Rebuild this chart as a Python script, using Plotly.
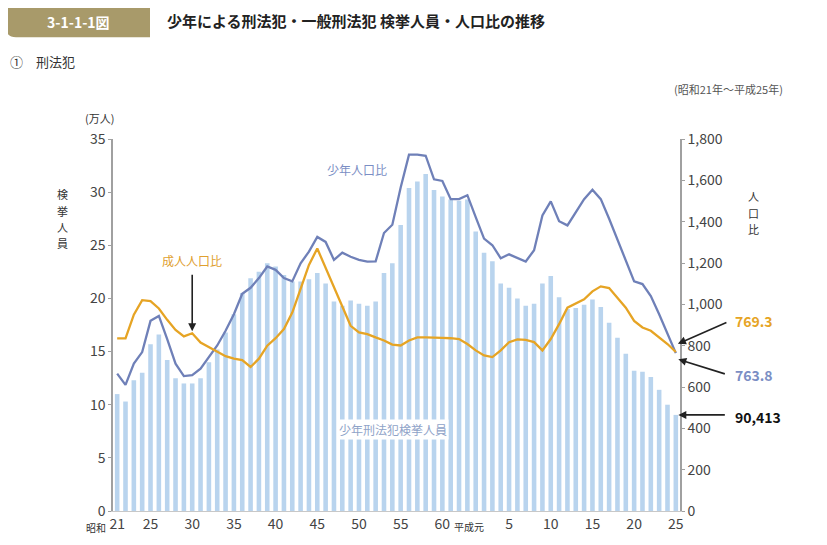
"""
少年による刑法犯 検挙人員・人口比の推移（昭和21年〜平成25年）
"""

import plotly.graph_objects as go

# 昭和21年(1946)〜平成25年(2013)
YEARS = list(range(1946, 2014))

# 少年刑法犯検挙人員（万人）
ARRESTS = [
    11.0, 10.3, 12.3, 13.0, 15.7, 16.6, 14.2, 12.5, 12.0, 12.0,
    12.5, 14.0, 15.2, 16.8, 18.5, 20.5, 21.9, 22.5, 23.3, 23.0,
    22.2, 21.6, 21.6, 21.8, 22.4, 21.4, 19.7, 19.3, 19.8, 19.5,
    19.3, 19.7, 22.4, 23.3, 26.9, 30.4, 31.0, 31.7, 30.2, 29.6,
    29.3, 29.2, 29.3, 26.3, 24.3, 23.5, 21.4, 21.0, 20.0, 19.3,
    19.5, 21.4, 22.1, 20.1, 19.0, 19.1, 19.4, 19.9, 19.2, 17.7,
    16.3, 14.8, 13.2, 13.1, 12.6, 11.4, 10.0, 9.0413,
]

# 少年人口比
JUV_RATE = [
    665, 610, 713, 769, 920, 944, 832, 713, 653, 657,
    689, 745, 801, 872, 952, 1051, 1080, 1127, 1183, 1167,
    1127, 1111, 1199, 1255, 1326, 1302, 1215, 1250, 1230, 1215,
    1207, 1208, 1345, 1385, 1565, 1724, 1724, 1719, 1605, 1597,
    1509, 1509, 1528, 1422, 1318, 1286, 1223, 1242, 1226, 1207,
    1262, 1430, 1498, 1402, 1382, 1446, 1509, 1555, 1509, 1414,
    1310, 1215, 1111, 1098, 1040, 952, 856, 763.8,
]

# 成人人口比
ADULT_RATE = [
    835, 835, 950, 1020, 1016, 980, 925, 876, 845, 860,
    815, 793, 773, 749, 737, 730, 697, 737, 800, 836,
    880, 960, 1075, 1191, 1270, 1175, 1079, 984, 896, 864,
    856, 840, 825, 805, 801, 825, 840, 840, 840, 838,
    836, 832, 808, 777, 753, 745, 777, 817, 830, 828,
    817, 777, 832, 904, 984, 1003, 1024, 1063, 1087, 1079,
    1032, 984, 920, 888, 872, 840, 808, 769.3,
]

TICK_YEARS = [1946, 1950, 1955, 1960, 1965, 1970, 1975, 1980, 1985,
              1993, 1998, 2003, 2008, 2013]
TICK_TEXT = ["21", "25", "30", "35", "40", "45", "50", "55", "60",
             "5", "10", "15", "20", "25"]

COLOR_BAR = "#b9d4ee"
COLOR_JUV = "#6f80b8"
COLOR_ADULT = "#e6a424"
COLOR_TEXT = "#333333"
COLOR_AXIS = "#a0a0a0"
FONT = "Noto Sans CJK JP, Noto Sans, sans-serif"

# ページ本体の余白(8px)を差し引いた座標系
OFF = 8
W, H = 827 - OFF, 545 - OFF
L, R, T, B = 113 - OFF, 680 - OFF, 139 - OFF, 516 - OFF


def px(x):
    return (x - OFF - L) / (R - L)


def py(y):
    return (B - (y - OFF)) / (B - T)


idx = list(range(len(YEARS)))
tick_idx = [YEARS.index(y) for y in TICK_YEARS]

fig = go.Figure()

fig.add_trace(go.Bar(
    x=idx, y=ARRESTS, marker=dict(color=COLOR_BAR, line=dict(width=0)),
    name="少年刑法犯検挙人員", yaxis="y",
))
fig.add_trace(go.Scatter(
    x=idx, y=JUV_RATE, mode="lines", name="少年人口比",
    line=dict(color=COLOR_JUV, width=2.3), yaxis="y2",
))
fig.add_trace(go.Scatter(
    x=idx, y=ADULT_RATE, mode="lines", name="成人人口比",
    line=dict(color=COLOR_ADULT, width=2.3), yaxis="y2",
))

ann = []


def text(x, y, s, size=12, color=COLOR_TEXT, xanchor="center", **kw):
    ann.append(dict(x=px(x), y=py(y), xref="paper", yref="paper", text=s,
                    showarrow=False, xanchor=xanchor, yanchor="middle",
                    font=dict(size=size, color=color, family=FONT), **kw))


def vtext(x, y0, s, size=11, step=16.5):
    # 縦書きラベル：1文字ずつ配置
    for i, ch in enumerate(s):
        text(x, y0 + i * step, ch, size=size, borderpad=0)


# ヘッダー
text(78, 20, "<b>3-1-1-1図</b>", size=14, color="#ffffff")
text(165, 19, "<b>少年による刑法犯・一般刑法犯 検挙人員・人口比の推移</b>",
     size=15, color="#222222", xanchor="left")
text(8, 60, "①　刑法犯", size=13, xanchor="left")
text(672, 88, "(昭和21年〜平成25年)", size=11, color="#555555", xanchor="left")
text(99, 118, "(万人)", size=11, borderpad=0)
vtext(62, 195, "検挙人員")
vtext(753, 197, "人口比")

# x軸の元号
text(108, 533, "昭和", size=10, xanchor="right")
text(452, 532, "平成元", size=10, xanchor="left")

# 系列ラベル
text(357, 170, "少年人口比", size=12, color="#7b8ec4")
text(192, 262, "成人人口比", size=12, color="#e0a030")
text(393, 433, "少年刑法犯検挙人員", size=12, color="#8fa3c8", bgcolor="#ffffff")

# 平成25年の値
last = len(YEARS) - 1
text(733, 323, f"<b>{ADULT_RATE[-1]:.1f}</b>", size=14, color=COLOR_ADULT, xanchor="left")
text(733, 378, f"<b>{JUV_RATE[-1]:.1f}</b>", size=14, color="#7b8ec4", xanchor="left")
text(733, 421, f"<b>{round(ARRESTS[-1] * 10000):,}</b>", size=14, color="#111111",
     xanchor="left")

arrow = dict(text="", showarrow=True, arrowhead=2, arrowsize=1, arrowwidth=1.6,
             arrowcolor="#222222", axref="pixel", ayref="pixel")
ann.append(dict(arrow, x=last + 0.25, y=ADULT_RATE[-1] + 40, xref="x", yref="y2",
                ax=50, ay=-22))
ann.append(dict(arrow, x=last + 0.3, y=JUV_RATE[-1] - 30, xref="x", yref="y2",
                ax=48, ay=15))
ann.append(dict(arrow, x=last + 0.3, y=ARRESTS[-1], xref="x", yref="y",
                ax=48, ay=0))
ann.append(dict(arrow, x=9, y=ADULT_RATE[9] + 10, xref="x", yref="y2",
                ax=0, ay=-58))

shapes = [
    dict(type="path", xref="paper", yref="paper",
         path=(f"M {px(6)},{py(5)} L {px(150)},{py(5)} L {px(150)},{py(36)} "
               f"L {px(16)},{py(36)} Q {px(6)},{py(36)} {px(6)},{py(26)} Z"),
         fillcolor="#a89a6a", line=dict(width=0)),
]

fig.update_layout(
    width=W, height=H,
    margin=dict(l=L, r=W - R, t=T, b=H - B),
    paper_bgcolor="#ffffff", plot_bgcolor="#ffffff",
    showlegend=False, bargap=0.45,
    font=dict(family=FONT, color=COLOR_TEXT, size=14),
    xaxis=dict(
        range=[-0.5, len(YEARS) - 0.5], tickvals=tick_idx, ticktext=TICK_TEXT,
        showgrid=False, zeroline=False, showline=True, linecolor="#c8c8c8",
        ticks="", tickfont=dict(size=14, color="#444444"),
    ),
    yaxis=dict(
        range=[0, 35], dtick=5, showgrid=False, zeroline=False,
        showline=True, linecolor=COLOR_AXIS, linewidth=1.5,
        ticks="outside", ticklen=3, tickcolor=COLOR_AXIS,
        tickfont=dict(size=14, color="#444444"),
    ),
    yaxis2=dict(
        range=[0, 1800], dtick=200, overlaying="y", side="right",
        showgrid=False, zeroline=False, showline=True, linecolor=COLOR_AXIS,
        linewidth=1.5, ticks="outside", ticklen=3, tickcolor=COLOR_AXIS,
        tickformat=",", tickfont=dict(size=14, color="#444444"),
    ),
    annotations=ann,
    shapes=shapes,
)

fig.write_html("out.html")
